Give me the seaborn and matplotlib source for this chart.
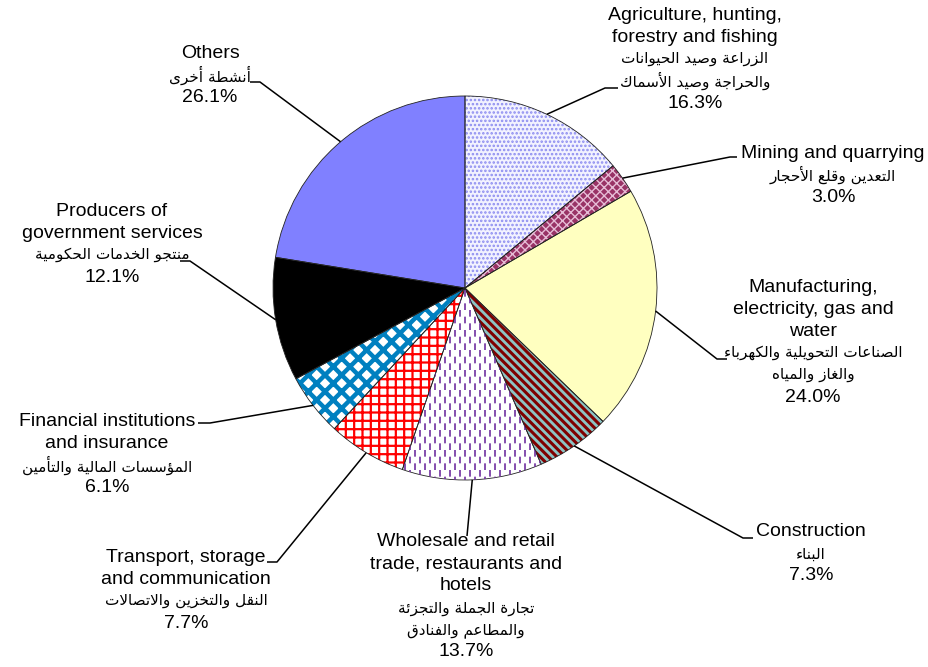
import numpy as np
import matplotlib
matplotlib.use("Agg")
import matplotlib.pyplot as plt
import seaborn as sns

# ---------------- data ----------------
labels_en = [
    "Agriculture, hunting,\nforestry and fishing",
    "Mining and quarrying",
    "Manufacturing,\nelectricity, gas and\nwater",
    "Construction",
    "Wholesale and retail\ntrade, restaurants and\nhotels",
    "Transport, storage\nand communication",
    "Financial institutions\nand insurance",
    "Producers of\ngovernment services",
    "Others",
]
labels_ar = [
    ["الزراعة وصيد الحيوانات", "والحراجة وصيد الأسماك"],
    ["التعدين وقلع الأحجار"],
    ["الصناعات التحويلية والكهرباء", "والغاز والمياه"],
    ["البناء"],
    ["تجارة الجملة والتجزئة", "والمطاعم والفنادق"],
    ["النقل والتخزين والاتصالات"],
    ["المؤسسات المالية والتأمين"],
    ["منتجو الخدمات الحكومية"],
    ["أنشطة أخرى"],
]
values = [16.3, 3.0, 24.0, 7.3, 13.7, 7.7, 6.1, 12.1, 26.1]
pct_labels = ["16.3%", "3.0%", "24.0%", "7.3%", "13.7%", "7.7%", "6.1%", "12.1%", "26.1%"]

# ---------------- styles ----------------
face_colors = ["#F2F2FF", "#993366", "#FFFFC0", "#8CC4C4", "#FFFFFF",
               "#FFFFFF", "#FFFFFF", "#000000", "#8080FF"]
hatches = ["....", "xxxx", None, "\\\\\\\\", None, "++", "xx", None, None]
hatch_colors = ["#8C8CF0", "#E6BCD6", "#FFFFC0", "#800000", "#FFFFFF",
                "#FF0000", "#0080C0", "#000000", "#8080FF"]
hatch_lw = [1.2, 1.0, 1.0, 2.2, 1.0, 1.6, 3.2, 1.0, 1.0]

# label centres (px) and leader elbows / ends (px)
label_pos = [(695, 59), (833, 175), (813, 342), (811, 554), (466, 597),
             (186, 590), (107, 454), (112, 244), (210, 75)]
leader_pts = [((605, 88), (618, 88)), ((730, 157), (737, 157)),
              ((717, 359), (727, 359)), ((743, 538), (753, 538)),
              ((467, 536), (467, 536)), ((277, 562), (267, 562)),
              ((210, 423), (198, 423)), ((190, 261), (180, 261)),
              ((260, 82), (250, 82))]
LINE_STEP = 22.0

# ---------------- Arabic shaping (presentation forms) ----------------
_order = [("\u0621", 1), ("\u0622", 2), ("\u0623", 2), ("\u0624", 2), ("\u0625", 2),
          ("\u0626", 4), ("\u0627", 2), ("\u0628", 4), ("\u0629", 2), ("\u062A", 4),
          ("\u062B", 4), ("\u062C", 4), ("\u062D", 4), ("\u062E", 4), ("\u062F", 2),
          ("\u0630", 2), ("\u0631", 2), ("\u0632", 2), ("\u0633", 4), ("\u0634", 4),
          ("\u0635", 4), ("\u0636", 4), ("\u0637", 4), ("\u0638", 4), ("\u0639", 4),
          ("\u063A", 4), ("\u0641", 4), ("\u0642", 4), ("\u0643", 4), ("\u0644", 4),
          ("\u0645", 4), ("\u0646", 4), ("\u0647", 4), ("\u0648", 2), ("\u0649", 2),
          ("\u064A", 4)]
BASE, NF = {}, {}
_c = 0xFE80
for ch, n in _order:
    BASE[ch] = _c
    NF[ch] = n
    _c += n
LAMALEF = {"\u0622": ("\uFEF5", "\uFEF6"), "\u0623": ("\uFEF7", "\uFEF8"),
           "\u0625": ("\uFEF9", "\uFEFA"), "\u0627": ("\uFEFB", "\uFEFC")}


def shape(s):
    toks = []
    i = 0
    while i < len(s):
        c = s[i]
        if c == "\u0644" and i + 1 < len(s) and s[i + 1] in LAMALEF:
            toks.append(("LA", s[i + 1]))
            i += 2
        else:
            toks.append(("C", c))
            i += 1

    def nt(t):
        return 2 if t[0] == "LA" else NF.get(t[1], 0)

    out = []
    for k, t in enumerate(toks):
        n = nt(t)
        prev = toks[k - 1] if k > 0 else None
        nxt = toks[k + 1] if k + 1 < len(toks) else None
        jp = n >= 2 and prev is not None and nt(prev) == 4
        jn = n == 4 and nxt is not None and nt(nxt) >= 2
        if t[0] == "LA":
            iso, fin = LAMALEF[t[1]]
            out.append(fin if jp else iso)
            continue
        if n == 0:
            out.append(t[1])
            continue
        idx = 3 if (jp and jn) else 1 if jp else 2 if jn else 0
        out.append(chr(BASE[t[1]] + idx))
    return "".join(reversed(out))


# ---------------- figure ----------------
sns.set_theme(style="white")
plt.rcParams["font.family"] = ["Liberation Sans", "DejaVu Sans"]

W, H = 929, 667
CX, CY, R = 465, 288, 192.0
fig = plt.figure(figsize=(W / 100, H / 100), dpi=100)
ax = fig.add_axes([0, 0, 1, 1])


def px(x, y):
    return ((x - CX) / R, (CY - y) / R)


# hatched fill layer
wedges, _ = ax.pie(values, startangle=90, counterclock=False, radius=1.0,
                   colors=face_colors, hatch=hatches,
                   wedgeprops=dict(linewidth=0))
for w, hc, hl in zip(wedges, hatch_colors, hatch_lw):
    w.set_edgecolor(hc)
    w.set_linewidth(0)
    if hasattr(w, "set_hatch_linewidth"):
        w.set_hatch_linewidth(hl)

# dashed vertical pattern of the wholesale slice
ws = wedges[4]
xs = np.arange(-0.6, 0.6, 5.0 / R)
for j, xv in enumerate(xs):
    off = 0 if j % 2 == 0 else 4.0
    ln = ax.plot([xv, xv], [-1.05, 0.05], color="#7030A0", lw=1.2,
                 linestyle=(off, (4.0, 4.0)), solid_capstyle="butt")[0]
    ln.set_clip_path(ws)

# outline layer
ax.pie(values, startangle=90, counterclock=False, radius=1.0,
       wedgeprops=dict(fill=False, edgecolor="#222222", linewidth=0.6))

# labels and leader lines
for i, w in enumerate(wedges):
    mid = np.deg2rad((w.theta1 + w.theta2) / 2)
    ex, ey = np.cos(mid), np.sin(mid)
    (elx, ely), (enx, eny) = leader_pts[i]
    p1 = px(elx, ely)
    p2 = px(enx, eny)
    ax.plot([ex, p1[0], p2[0]], [ey, p1[1], p2[1]], color="black", lw=1.1,
            solid_capstyle="butt")
    lines = ([(t, 14, "Liberation Sans") for t in labels_en[i].split("\n")]
             + [(shape(a), 11, "DejaVu Sans") for a in labels_ar[i]]
             + [(pct_labels[i], 14, "Liberation Sans")])
    n = len(lines)
    cx, cy = label_pos[i]
    for k, (txt, fs, fam) in enumerate(lines):
        yy = cy + (k - (n - 1) / 2) * LINE_STEP
        tx, ty = px(cx, yy)
        ax.text(tx, ty, txt, ha="center", va="center", fontsize=fs,
                family=[fam, "DejaVu Sans"], color="black")

ax.set_xlim(-CX / R, (W - CX) / R)
ax.set_ylim(-(H - CY) / R, CY / R)
ax.set_aspect("auto")
ax.axis("off")
fig.savefig("out.png", dpi=100, facecolor="white")
